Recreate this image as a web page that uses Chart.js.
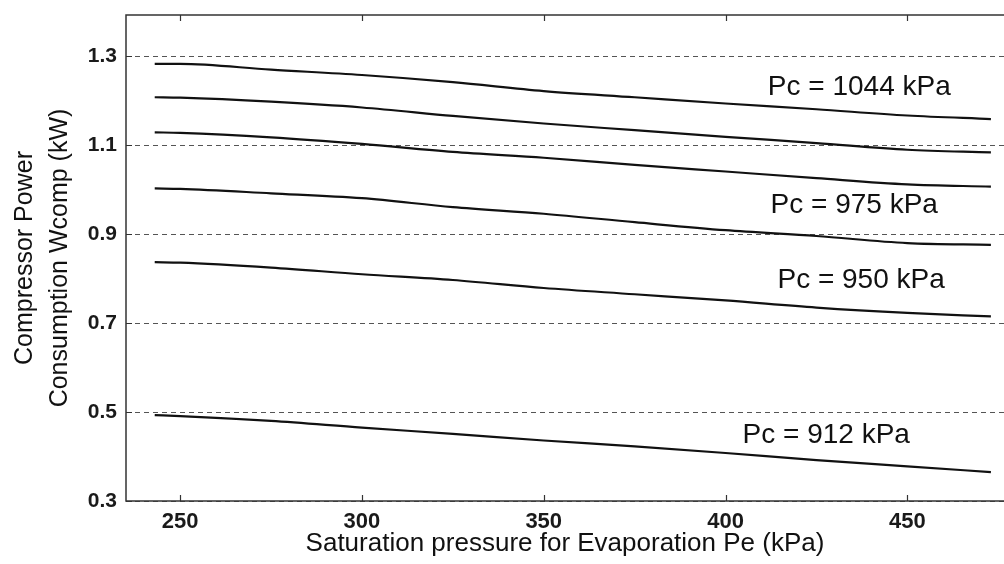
<!DOCTYPE html>
<html>
<head>
<meta charset="utf-8">
<script src="https://cdn.jsdelivr.net/npm/chart.js@4.4.1/dist/chart.umd.min.js"></script>
<style>
  html, body { margin: 0; padding: 0; background: #fff; }
  #wrap { width: 1004px; height: 564px; }
</style>
</head>
<body>
<div id="wrap"><canvas id="power_chart"></canvas></div>
<script>
// evaporation pressure (kPa)
var pe = [243, 250, 275, 300, 325, 350, 375, 400, 425, 450, 473];

// compressor power (kW), one array per curve, top to bottom
var curve1 = [1.283, 1.283, 1.270, 1.258, 1.242, 1.222, 1.208, 1.194, 1.181, 1.167, 1.159];
var curve2 = [1.208, 1.207, 1.198, 1.185, 1.166, 1.149, 1.134, 1.119, 1.105, 1.090, 1.084];
var curve3 = [1.129, 1.128, 1.118, 1.103, 1.085, 1.072, 1.056, 1.041, 1.026, 1.012, 1.007];
var curve4 = [1.003, 1.002, 0.992, 0.981, 0.961, 0.946, 0.927, 0.909, 0.896, 0.880, 0.876];
var curve5 = [0.837, 0.836, 0.825, 0.810, 0.797, 0.779, 0.765, 0.751, 0.735, 0.723, 0.715];
var curve6 = [0.493, 0.491, 0.480, 0.465, 0.451, 0.436, 0.423, 0.408, 0.392, 0.378, 0.365];

var xTicks = [250, 300, 350, 400, 450];
var yTicks = [0.3, 0.5, 0.7, 0.9, 1.1, 1.3];

// text labels on the plot
var labelText = ['Pc = 1044 kPa', 'Pc = 975 kPa', 'Pc = 950 kPa', 'Pc = 912 kPa'];
var labelX = [436.8, 435.4, 437.3, 427.7];
var labelY = [1.231, 0.966, 0.797, 0.448];

function pts(ys) {
    return pe.map(function (x, i) { return {x: x, y: ys[i]}; });
}

var FONT = "'Liberation Sans', Arial, sans-serif";

// frame (left, bottom, top) with inward ticks, plus the Pc labels
var framePlugin = {
    id: 'frame',
    afterDraw: function (chart) {
        var ctx = chart.ctx;
        var a = chart.chartArea;
        var sx = chart.scales.x, sy = chart.scales.y;
        ctx.save();
        ctx.strokeStyle = '#333';
        ctx.lineWidth = 1.5;
        ctx.beginPath();
        ctx.moveTo(a.right + 2, a.top);
        ctx.lineTo(a.left, a.top);
        ctx.lineTo(a.left, a.bottom);
        ctx.lineTo(a.right + 2, a.bottom);
        ctx.stroke();

        ctx.lineWidth = 1.2;
        ctx.beginPath();
        xTicks.forEach(function (v) {
            var px = Math.round(sx.getPixelForValue(v)) + 0.5;
            ctx.moveTo(px, a.bottom);
            ctx.lineTo(px, a.bottom - 6);
            ctx.moveTo(px, a.top);
            ctx.lineTo(px, a.top + 6);
        });
        yTicks.forEach(function (v) {
            var py = Math.round(sy.getPixelForValue(v)) + 0.5;
            ctx.moveTo(a.left, py);
            ctx.lineTo(a.left + 6, py);
        });
        ctx.stroke();

        ctx.fillStyle = '#111';
        ctx.font = '28px ' + FONT;
        ctx.textAlign = 'center';
        ctx.textBaseline = 'middle';
        labelText.forEach(function (t, i) {
            ctx.fillText(t, sx.getPixelForValue(labelX[i]), sy.getPixelForValue(labelY[i]));
        });
        ctx.restore();
    }
};

document.addEventListener('DOMContentLoaded', function () {
    var chx = document.getElementById('power_chart');
    var series = [curve1, curve2, curve3, curve4, curve5, curve6];

    var pChart = new Chart(chx, {
        type: 'scatter',
        data: {
            datasets: series.map(function (s) {
                return {
                    data: pts(s),
                    showLine: true,
                    borderColor: '#111',
                    borderWidth: 2.2,
                    pointRadius: 0,
                    tension: 0.3,
                    cubicInterpolationMode: 'monotone'
                };
            })
        },
        options: {
            responsive: true,
            maintainAspectRatio: false,
            animation: false,
            layout: { padding: { top: 15, left: 0, right: 0, bottom: 0 } },
            plugins: {
                legend: { display: false },
                tooltip: { enabled: false }
            },
            scales: {
                x: {
                    type: 'linear',
                    min: 235.1,
                    max: 476.6,
                    afterBuildTicks: function (s) {
                        s.ticks = xTicks.map(function (v) { return {value: v}; });
                    },
                    afterFit: function (s) {
                        s.height = 63;
                        s.paddingLeft = 0;
                        s.paddingRight = 0;
                    },
                    grid: { display: false },
                    border: { display: false },
                    ticks: {
                        color: '#1a1a1a',
                        padding: 0,
                        maxRotation: 0,
                        font: { family: FONT, size: 22, weight: 'bold' }
                    },
                    title: {
                        display: true,
                        text: 'Saturation pressure for Evaporation Pe (kPa)',
                        color: '#111',
                        padding: { top: 0, bottom: 5 },
                        font: { family: FONT, size: 26 }
                    }
                },
                y: {
                    type: 'linear',
                    min: 0.3,
                    max: 1.393,
                    afterBuildTicks: function (s) {
                        s.ticks = yTicks.map(function (v) { return {value: v}; });
                    },
                    afterFit: function (s) {
                        s.width = 126;
                        s.paddingTop = 0;
                        s.paddingBottom = 0;
                    },
                    grid: {
                        drawTicks: false,
                        color: '#555',
                        lineWidth: 1
                    },
                    border: { display: false, dash: [5, 4] },
                    ticks: {
                        color: '#1a1a1a',
                        padding: 9,
                        font: { family: FONT, size: 21, weight: 'bold' },
                        callback: function (v) { return v.toFixed(1); }
                    },
                    title: {
                        display: true,
                        text: ['Compressor Power', 'Consumption Wcomp (kW)'],
                        color: '#111',
                        padding: { top: 8, bottom: 0 },
                        font: { family: FONT, size: 25, lineHeight: 1.4 }
                    }
                }
            }
        },
        plugins: [framePlugin]
    });
});
</script>
</body>
</html>
